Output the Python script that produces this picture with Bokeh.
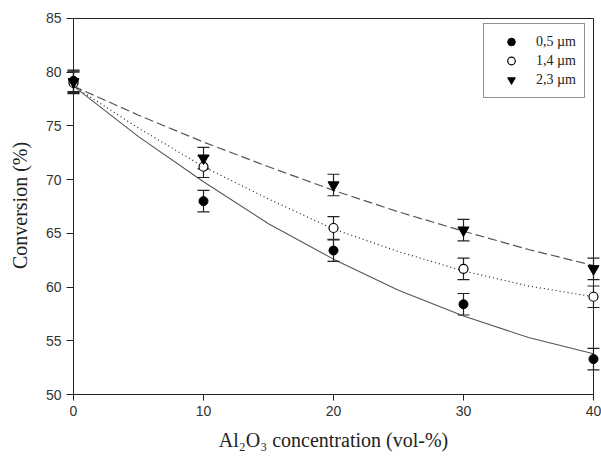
from bokeh.plotting import figure
from bokeh.models import Range1d, FixedTicker, Legend, LegendItem
from bokeh.embed import file_html
from bokeh.resources import INLINE

# ---- data ----
conc = [0, 10, 20, 30, 40]
conv_05 = [79.2, 68.0, 63.4, 58.4, 53.3]
conv_14 = [79.0, 71.2, 65.5, 61.7, 59.1]
conv_23 = [79.1, 72.0, 69.5, 65.3, 61.7]
err_05 = [1.0, 1.0, 1.0, 1.0, 1.0]
err_14 = [1.0, 1.0, 1.05, 1.0, 1.0]
err_23 = [1.0, 1.0, 1.0, 1.0, 1.0]

fit_x = [0, 5, 10, 15, 20, 25, 30, 35, 40]
fit_05 = [78.7, 74.0, 69.8, 65.9, 62.6, 59.7, 57.3, 55.3, 53.8]
fit_14 = [78.7, 74.8, 71.2, 68.2, 65.4, 63.3, 61.5, 60.1, 59.1]
fit_23 = [78.7, 76.0, 73.5, 71.2, 69.0, 67.0, 65.2, 63.5, 62.0]

labels = ["0,5 \u00b5m", "1,4 \u00b5m", "2,3 \u00b5m"]
x_ticks = [0, 10, 20, 30, 40]
y_ticks = [50, 55, 60, 65, 70, 75, 80, 85]

# small padding of the frame so that markers on the box edges are not clipped
xpad = 0.5385
ypad = 0.186
p = figure(width=601, height=457, output_backend="svg", toolbar_location=None,
           x_range=Range1d(x_ticks[0] - xpad, x_ticks[-1] + xpad),
           y_range=Range1d(y_ticks[0], y_ticks[-1] + ypad),
           min_border_left=66, min_border_right=1, min_border_top=16, min_border_bottom=63)

p.xgrid.visible = False
p.ygrid.visible = False
p.outline_line_color = None
p.background_fill_color = "white"
p.border_fill_color = "white"

for ax in (p.xaxis[0], p.yaxis[0]):
    ax.minor_tick_in = 0
    ax.minor_tick_out = 0
    ax.major_tick_line_color = "#222222"
    ax.major_label_text_font = "Liberation Sans"
    ax.major_label_text_font_size = "14px"
    ax.major_label_text_color = "#333333"
    ax.axis_label_text_font = "Liberation Serif"
    ax.axis_label_text_font_size = "20px"
    ax.axis_label_text_font_style = "normal"
    ax.axis_label_text_color = "#222222"

# x axis sits on the frame bottom
p.xaxis.ticker = FixedTicker(ticks=x_ticks)
p.xaxis.bounds = (x_ticks[0], x_ticks[-1])
p.xaxis.major_tick_in = 0
p.xaxis.major_tick_out = 6
p.xaxis.axis_line_color = "#222222"
p.xaxis.major_label_standoff = 5
p.xaxis.axis_label = "Al\u2082O\u2083 concentration (vol-%)"
p.xaxis.axis_label_standoff = 10

# y axis: frame edge is 7px left of x=0; ticks drawn inward reach the x=0 line
p.yaxis.ticker = FixedTicker(ticks=y_ticks)
p.yaxis.bounds = (y_ticks[0], y_ticks[-1])
p.yaxis.axis_line_color = None
p.yaxis.major_tick_in = 7
p.yaxis.major_tick_out = 0
p.yaxis.major_label_standoff = 5
p.yaxis.axis_label = "Conversion (%)"
p.yaxis.axis_label_standoff = 12

# plot box (the y = 0 axis line, top and right edges)
p.quad(left=[x_ticks[0]], right=[x_ticks[-1]], bottom=[y_ticks[0]], top=[y_ticks[-1]],
       fill_color=None, line_color="#222222", line_width=1)

# fitted curves
p.line(fit_x, fit_05, line_color="#555555", line_width=1.1)
p.line(fit_x, fit_14, line_color="#222222", line_width=1.2, line_dash="1 3")
p.line(fit_x, fit_23, line_color="#555555", line_width=1.2, line_dash="9 4")

# error bars
for ys, es in ((conv_05, err_05), (conv_14, err_14), (conv_23, err_23)):
    lo = [y - e for y, e in zip(ys, es)]
    hi = [y + e for y, e in zip(ys, es)]
    p.segment(x0=conc, y0=lo, x1=conc, y1=hi, line_color="#222222", line_width=1.2)
    p.scatter(conc, lo, marker="dash", size=12, line_color="#222222", line_width=1.2)
    p.scatter(conc, hi, marker="dash", size=12, line_color="#222222", line_width=1.2)

r05 = p.scatter(conc, conv_05, marker="circle", size=9, fill_color="black", line_color="black")
r14 = p.scatter(conc, conv_14, marker="circle", size=9, fill_color="white", line_color="black", line_width=1.2)
r23 = p.scatter(conc, conv_23, marker="inverted_triangle", size=11, fill_color="black", line_color="black")

legend = Legend(items=[LegendItem(label=labels[0], renderers=[r05]),
                       LegendItem(label=labels[1], renderers=[r14]),
                       LegendItem(label=labels[2], renderers=[r23])],
                location=(417, 296), margin=0, padding=8, spacing=0,
                glyph_width=38, glyph_height=19, label_height=19, label_standoff=6,
                label_text_font="Liberation Serif", label_text_font_size="14px",
                label_text_color="#222222", border_line_color="#222222", border_line_width=1,
                background_fill_alpha=1.0)
p.add_layout(legend)

open("out.html", "w").write(file_html(p, INLINE))
